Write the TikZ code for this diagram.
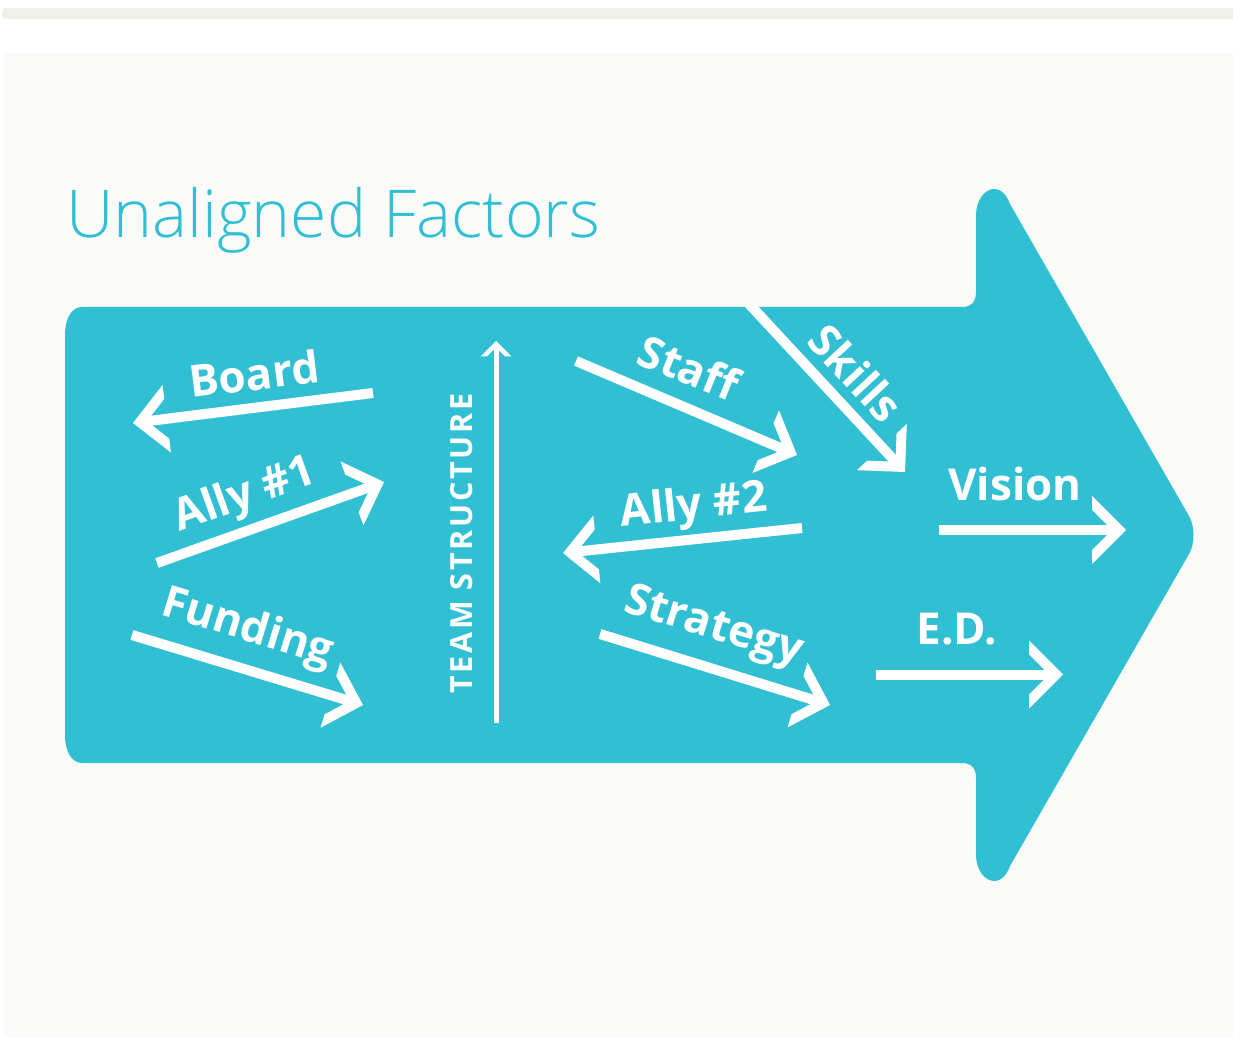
\documentclass[tikz,border=0pt]{standalone}
\usepackage{fontspec}
\setmainfont{Open Sans}
\IfFontExistsTF{Open Sans Light}{\newfontfamily\titlefont{Open Sans Light}}{\newfontfamily\titlefont{Open Sans}}
\IfFontExistsTF{Open Sans ExtraBold}{\newfontfamily\heavyfont{Open Sans ExtraBold}}{\newfontfamily\heavyfont{Open Sans}[UprightFont=*-Bold]}
\usetikzlibrary{calc}
\definecolor{teal1}{HTML}{31C0D3}
\definecolor{panel}{HTML}{FAFAF8}
\definecolor{strip}{HTML}{EFF0E8}
\tikzset{
  shaft/.style={draw=white, line width=10pt},
  thinshaft/.style={draw=white, line width=5pt},
  lbl/.style={text=white, font=\fontsize{44}{48}\selectfont\bfseries, inner sep=0pt, anchor=base},
}
% #1 tip, #2 tail, #3 scale
\newcommand\mkchev[3]{%
  \pgfmathsetmacro\cA{48.08*#3}\pgfmathsetmacro\cB{39.45*#3}\pgfmathsetmacro\cC{14*#3}%
  \fill[white] (#1) -- ($(#1)!\cA pt!45:(#2)$) -- ($(#1)!\cB pt!30.47:(#2)$)
    -- ($(#1)!\cC pt!(#2)$) -- ($(#1)!\cB pt!-30.47:(#2)$) -- ($(#1)!\cA pt!-45:(#2)$) -- cycle;}
\begin{document}
\begin{tikzpicture}[x=1pt,y=-1pt]
\useasboundingbox (0,0) rectangle (1233,1040);
\fill[white] (0,0) rectangle (1233,1040);
\fill[strip] (1233,8) -- (5,8) .. controls (1,8) and (1,19) .. (5,19) -- (1233,19) -- cycle;
\fill[panel] (4,53) rectangle (1233,1038);

% big arrow
\fill[teal1] (82,307) -- (962,307) .. controls (971,307) and (976,302) .. (976,292)
  -- (976,215) .. controls (976,200) and (985,189) .. (994,189)
  .. controls (1002,189) and (1007,196) .. (1010,204)
  -- (1189,516) .. controls (1195,526) and (1195,544) .. (1189,554)
  -- (1010,866) .. controls (1007,874) and (1002,881) .. (994,881)
  .. controls (985,881) and (976,870) .. (976,855)
  -- (976,778) .. controls (976,768) and (971,763) .. (962,763)
  -- (82,763) .. controls (72,763) and (65,752) .. (65,735)
  -- (65,335) .. controls (65,318) and (72,307) .. (82,307) -- cycle;

\node[text=teal1, font=\titlefont\fontsize{66}{70}\selectfont, inner sep=0pt, anchor=base west] (title) at (66,238) {Unaligned Factors};

% arrow end points
\coordinate (boardT) at (373,393);   \coordinate (boardH) at (133,423);
\coordinate (ally1T) at (157,563);   \coordinate (ally1H) at (384,482);
\coordinate (fundT) at (132,635);    \coordinate (fundH) at (363,705);
\coordinate (teamT) at (496,723);    \coordinate (teamH) at (496,341);
\coordinate (staffT) at (576,361);   \coordinate (staffH) at (797,455);
\coordinate (skillT) at (738,292);   \coordinate (skillH) at (905,472);
\coordinate (ally2T) at (802,528);   \coordinate (ally2H) at (563,553);
\coordinate (stratT) at (600,634);   \coordinate (stratH) at (830,705);
\coordinate (visT) at (939,530);     \coordinate (visH) at (1126,530);
\coordinate (edT) at (876,674.5);    \coordinate (edH) at (1063,674.5);

\foreach \a in {board,ally1,fund,staff,ally2,strat,vis,ed}{
  \draw[shaft] (\a T) -- ($(\a H)!12pt!(\a T)$);
  \mkchev{\a H}{\a T}{1}
}
\begin{scope}
  \clip (0,307) rectangle (1233,1040);
  \draw[shaft] (skillT) -- ($(skillH)!12pt!(skillT)$);
\end{scope}
\mkchev{skillH}{skillT}{1}
\draw[thinshaft] (teamT) -- ($(teamH)!5pt!(teamT)$);
\mkchev{teamH}{teamT}{0.45}

% labels
\node[lbl, rotate=7] (lboard) at (256,390) {Board};
\node[lbl, rotate=19.7] (lally1) at (249,507) {Ally \#1};
\node[lbl, rotate=-17] (lfund) at (244,640) {Funding};
\node[lbl, rotate=-22] (lstaff) at (683,383) {Staff};
\node[lbl, rotate=-47, anchor=center] (lskill) at (856,373) {Skills};
\node[lbl, rotate=6] (lally2) at (695,519) {Ally \#2};
\node[lbl, rotate=-17] (lstrat) at (710,638) {Strategy};
\node[lbl] (lvis) at (1015,500) {Vision};
\node[lbl] (led) at (957,644) {E.D.};
\node[text=white, font=\heavyfont\fontsize{30.5}{31}\selectfont\addfontfeatures{LetterSpace=9}, inner sep=0pt, rotate=90, anchor=base west] (lteam) at (472,694) {TEAM STRUCTURE};
\end{tikzpicture}
\end{document}
